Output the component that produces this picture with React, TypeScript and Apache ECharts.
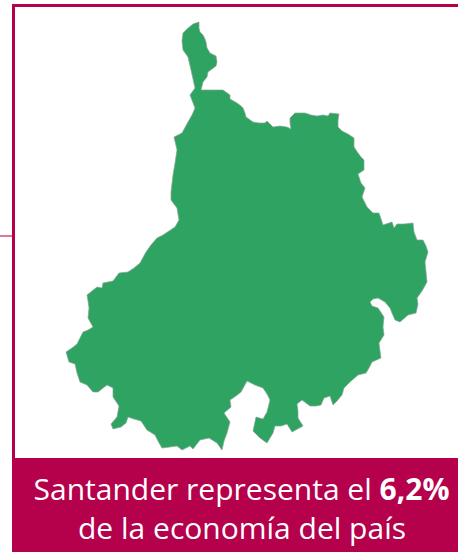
import React, { useEffect, useRef } from "react";
import * as echarts from "echarts";

const regionName = "Santander";
const regionValue = 6.2;
const captionBefore = "Santander representa el ";
const captionValue = "6,2%";
const captionLine2 = "de la economía del país";

const outline: [number, number][] = [
  [199,22],[199,28],[200,32],[203,35],[205,39],[206,42],[207,48],[210,53],[216,56],[217,62],[216,66],[212,69],[208,72],[207,77],[203,82],[202,86],[201,90],
  [223,90],[230,95],[230,99],[237,103],[241,106],[243,108],[245,113],[246,117],[253,122],[259,123],[265,123],[267,121],[270,124],[273,127],[280,126],[287,127],[291,129],[290,123],[290,118],
  [295,113],[300,113],[305,113],[311,115],[317,116],[323,115],[328,116],[330,113],[339,114],[338,120],[338,127],[342,131],[348,134],[354,138],[354,147],[358,153],[361,157],[364,160],[364,170],
  [358,174],[361,183],[365,188],[362,197],[365,203],[367,207],[373,213],[379,213],[381,219],[383,225],[392,222],[394,228],[397,224],[404,224],[413,223],[414,232],
  [417,240],[423,240],[426,246],[428,252],[425,262],[426,272],[427,282],[422,291],[417,298],[418,304],[416,313],[408,315],[400,322],[395,320],[392,313],[390,308],[385,302],[378,298],[373,299],[370,302],
  [372,306],[378,308],[384,317],[383,327],[384,335],[379,343],[380,351],[381,358],[372,362],[369,368],[366,373],[358,375],[350,382],[344,388],[342,395],
  [337,401],[333,405],[330,396],[324,398],[321,405],[316,406],[310,406],[302,400],[297,404],[298,411],[298,418],[303,426],[292,432],[287,424],[281,426],[275,426],[273,433],
  [267,443],[260,438],[253,431],[256,417],[263,419],[267,412],[270,400],[267,394],[263,388],[255,385],[247,381],[241,392],[236,396],[230,400],[231,407],[224,413],
  [230,422],[227,433],[224,441],[222,450],[217,443],[209,438],[200,440],[193,449],[190,446],[182,450],[177,446],[170,447],[162,448],[158,441],[155,435],[147,430],
  [141,421],[134,419],[128,417],[126,423],[121,427],[113,429],[111,424],[117,417],[119,406],[113,397],[113,388],[107,385],[98,392],[93,392],
  [87,385],[80,382],[77,373],[75,364],[69,362],[66,352],[72,348],[77,344],[80,338],[83,332],[88,330],[93,327],[88,318],[89,308],[88,301],[87,295],[92,291],[97,287],[102,288],
  [103,283],[113,281],[119,273],[128,272],[134,268],[140,263],[146,252],[151,245],[157,238],[163,235],[175,227],[179,220],[177,208],[171,200],[171,192],[173,175],
  [175,163],[177,150],[174,137],[182,133],[188,122],[192,115],[195,108],[190,95],[195,88],[193,79],[191,70],[188,57],[183,50],[182,41],[183,33],[187,29],[193,24],[199,22],
];

export default function App() {
  const ref = useRef<HTMLDivElement>(null);
  useEffect(() => {
    document.body.style.margin = "0";
    const chart = echarts.init(ref.current!, null, { renderer: "svg" });
    echarts.registerMap("santander", {
      type: "FeatureCollection",
      features: [
        {
          type: "Feature",
          properties: { name: regionName },
          geometry: { type: "Polygon", coordinates: [outline.map(([x, y]) => [x, -y])] },
        },
      ],
    } as any);
    const crimson = "#b5004b";
    chart.setOption({
      animation: false,
      backgroundColor: "#ffffff",
      series: [
        {
          type: "map",
          map: "santander",
          aspectScale: 1,
          roam: false,
          silent: true,
          left: 66,
          top: 22,
          width: 362,
          height: 428,
          label: { show: false },
          itemStyle: { areaColor: "#2fa362", borderColor: "#86a693", borderWidth: 0.7 },
          data: [{ name: regionName, value: regionValue }],
        },
      ],
      graphic: [
        { type: "rect", shape: { x: 13, y: 4, width: 445, height: 3 }, style: { fill: crimson } },
        { type: "rect", shape: { x: 12, y: 4, width: 3, height: 455 }, style: { fill: crimson } },
        { type: "rect", shape: { x: 0, y: 235, width: 12, height: 2 }, style: { fill: "#d9799f" } },
        { type: "rect", shape: { x: 12, y: 458, width: 446, height: 94 }, style: { fill: crimson } },
        {
          type: "text",
          x: 241.5,
          y: 488,
          style: {
            text: `{a|${captionBefore}}{b|${captionValue}}`,
            align: "center",
            verticalAlign: "middle",
            rich: {
              a: { fontFamily: "Open Sans", fontSize: 30, fill: "#ffffff", color: "#ffffff" },
              b: { fontFamily: "Open Sans", fontSize: 30, fontWeight: "bold", fill: "#ffffff", color: "#ffffff" },
            },
          },
        },
        {
          type: "text",
          x: 242,
          y: 527,
          style: {
            text: captionLine2,
            align: "center",
            verticalAlign: "middle",
            fontFamily: "Open Sans",
            fontSize: 30,
            fill: "#ffffff",
          },
        },
      ],
    });
    return () => chart.dispose();
  }, []);
  return <div ref={ref} style={{ position: "absolute", left: 0, top: 0, width: 458, height: 552 }} />;
}
